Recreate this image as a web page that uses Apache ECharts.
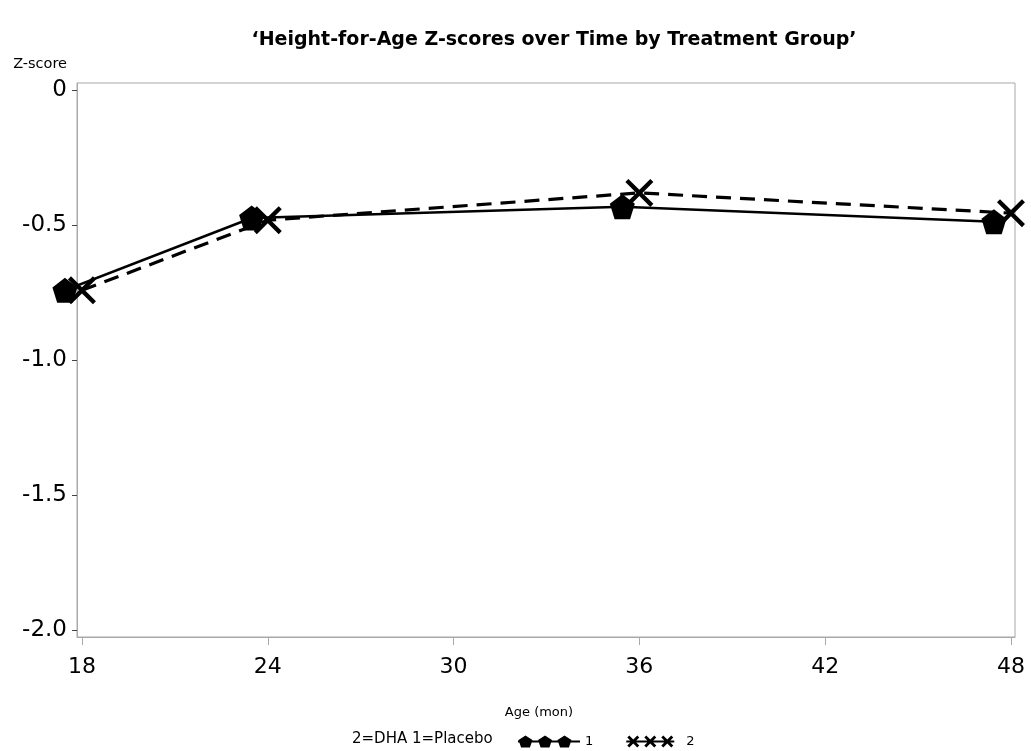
<!DOCTYPE html>
<html>
<head>
<meta charset="utf-8">
<script src="https://cdn.jsdelivr.net/npm/echarts@6/dist/echarts.min.js"></script>
<style>html,body{margin:0;padding:0;background:#fff}#c{width:1031px;height:751px}</style>
</head>
<body>
<div id="c"></div>
<script>
// Data
const placeboAge = [17.45, 23.48, 35.45, 47.45];
const placeboZ   = [-0.742, -0.474, -0.432, -0.488];
const dhaAge     = [18.0, 24.0, 36.0, 48.0];
const dhaZ       = [-0.742, -0.482, -0.381, -0.456];
const xTicks = [18, 24, 30, 36, 42, 48];
const yTicks = [0, -0.5, -1.0, -1.5, -2.0];
const yTickLabels = ['0', '-0.5', '-1.0', '-1.5', '-2.0'];
const seriesNames = ['1', '2'];

const FONT = 'DejaVu Sans, Verdana, sans-serif';
const pent = 'path://M0,-10 L9.5,-3.1 L5.9,8.1 L-5.9,8.1 L-9.5,-3.1 Z';
function xPath(cx, h, t) {
  const s = h / 6, k = t * s;
  const p = [[-h, -h + k], [-h + k, -h], [0, -k], [h - k, -h], [h, -h + k], [k, 0],
             [h, h - k], [h - k, h], [0, k], [-h + k, h], [-h, h - k], [-k, 0]];
  return 'M' + p.map(q => (cx + q[0]).toFixed(2) + ',' + (q[1] + 6).toFixed(2)).join(' L') + ' Z';
}
const xMark = 'path://' + xPath(0, 6, 1.3);
function pentPath(cx) {
  return `M${cx},0 L${cx+7},4.6 L${cx+4.4},12 L${cx-4.4},12 L${cx-7},4.6 Z`;
}
const legPent = 'path://M0,5 L62,5 L62,7 L0,7 Z ' + pentPath(7.5) + ' ' + pentPath(27) + ' ' + pentPath(46.5);
const legX = 'path://M0,5 L48,5 L48,7 L0,7 Z ' + xPath(7, 6, 2) + ' ' + xPath(24, 6, 2) + ' ' + xPath(41, 6, 2);

const chart = echarts.init(document.getElementById('c'));
chart.setOption({
  animation: false,
  backgroundColor: '#fff',
  textStyle: { fontFamily: FONT, color: '#000' },
  title: {
    text: '\u2018Height-for-Age Z-scores over Time by Treatment Group\u2019',
    left: 549, textAlign: 'center', top: 26,
    textStyle: { fontSize: 19, fontWeight: 'bold', color: '#000', fontFamily: FONT }
  },
  grid: { left: 77, right: 16, top: 83, bottom: 114, show: true, borderColor: '#a9a9a9', borderWidth: 1, containLabel: false },
  xAxis: {
    type: 'value', min: 17.84, max: 48.13,
    name: 'Age (mon)', nameLocation: 'middle', nameGap: 69,
    nameTextStyle: { fontSize: 13, color: '#000', fontFamily: FONT, padding: [0, 14, 0, 0] },
    axisLine: { show: true, onZero: false, lineStyle: { color: '#a9a9a9' } },
    axisTick: { show: true, length: 8, customValues: xTicks, lineStyle: { color: '#a9a9a9' } },
    axisLabel: { customValues: xTicks, fontSize: 22, color: '#000', margin: 19, fontFamily: FONT },
    splitLine: { show: false }
  },
  yAxis: {
    type: 'value', min: -2.026, max: 0.026,
    name: 'Z-score', nameLocation: 'end', nameGap: 11,
    nameTextStyle: { fontSize: 14.5, color: '#000', align: 'right', padding: [0, 10, 0, 0], fontFamily: FONT },
    axisLine: { show: true, onZero: false, lineStyle: { color: '#a9a9a9' } },
    axisTick: { show: true, length: 5, customValues: yTicks, lineStyle: { color: '#444' } },
    axisLabel: {
      customValues: yTicks, fontSize: 23, color: '#000', margin: 10, fontFamily: FONT,
      formatter: v => yTickLabels[yTicks.findIndex(y => Math.abs(y - v) < 1e-6)] ?? v
    },
    splitLine: { show: false }
  },
  legend: {
    left: 513, top: 730, itemWidth: 62, itemHeight: 12, itemGap: 33,
    symbolKeepAspect: true,
    textStyle: { fontSize: 13, color: '#000', fontFamily: FONT },
    data: [{ name: seriesNames[0], icon: legPent }, { name: seriesNames[1], icon: legX }]
  },
  graphic: [{
    type: 'text', left: 352, top: 732,
    style: { text: '2=DHA 1=Placebo', fontSize: 15, fill: '#000', fontFamily: FONT }
  }],
  series: [
    {
      name: seriesNames[0], type: 'line', clip: false,
      data: placeboAge.map((a, i) => [a, placeboZ[i]]),
      symbol: pent, symbolSize: 25,
      itemStyle: { color: '#000' },
      lineStyle: { color: '#000', width: 2.5, type: 'solid' }
    },
    {
      name: seriesNames[1], type: 'line', clip: false,
      data: dhaAge.map((a, i) => [a, dhaZ[i]]),
      symbol: xMark, symbolSize: 28,
      itemStyle: { color: '#000' },
      lineStyle: { color: '#000', width: 3.2, type: [15, 9] }
    }
  ]
});
</script>
</body>
</html>
